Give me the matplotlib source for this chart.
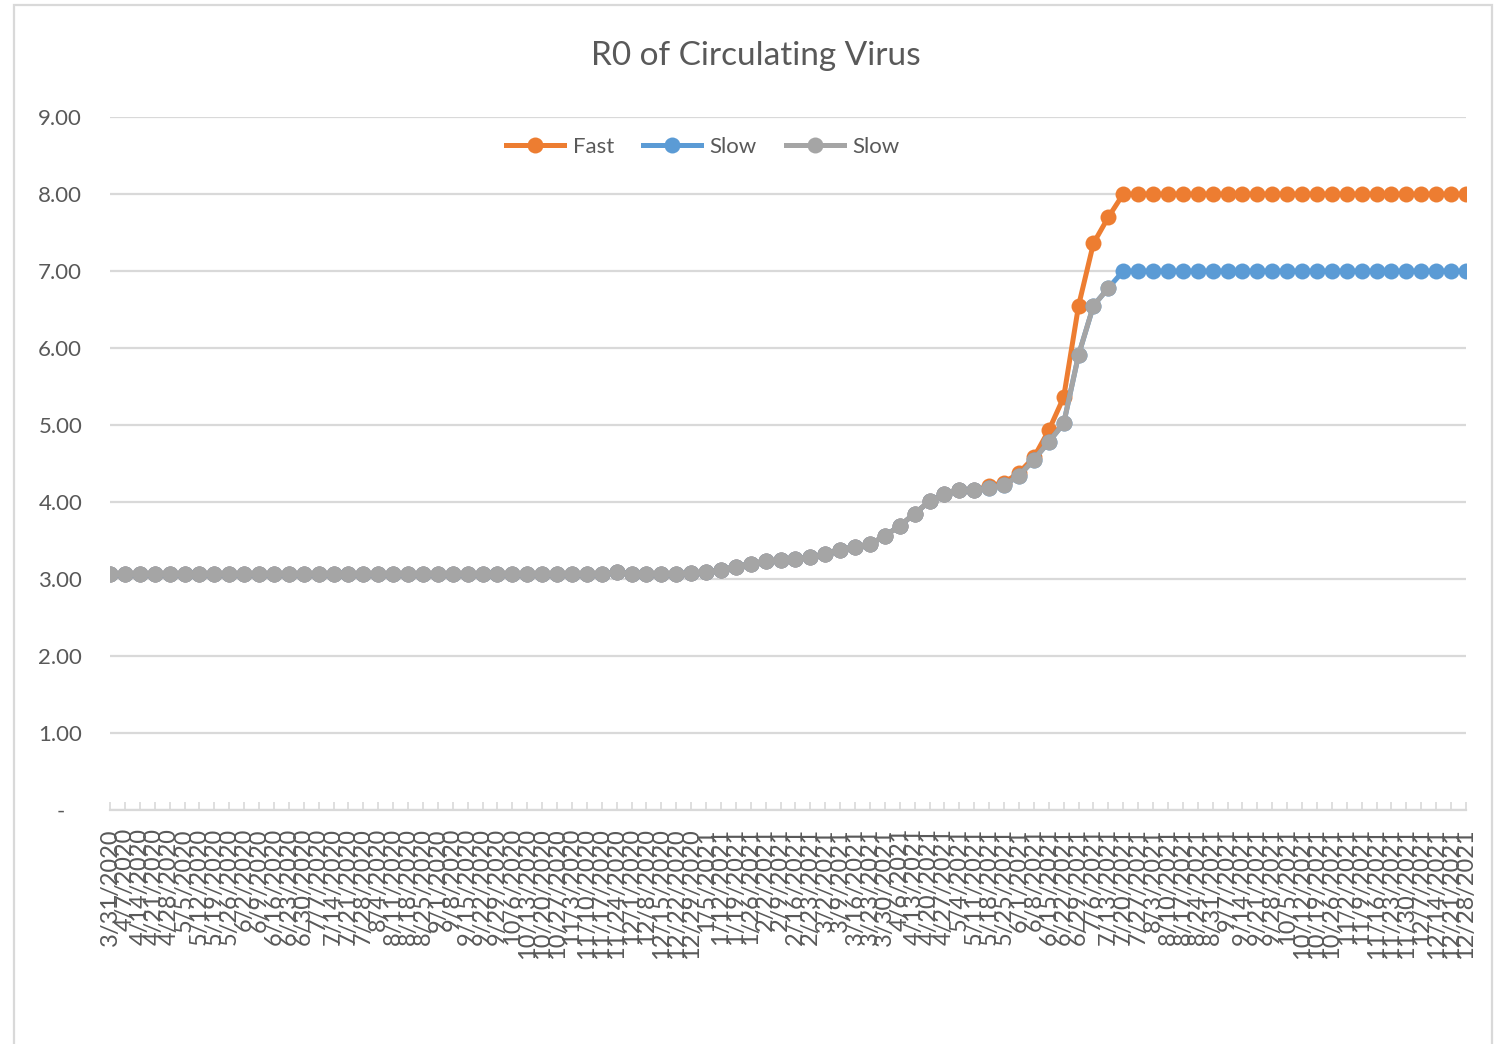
# R0 of circulating virus, weekly, for a fast and a slow scenario (Excel-style line chart)

import pandas as pd
import matplotlib.pyplot as plt
from matplotlib.patches import Rectangle

# Weekly dates on the category axis, 3/31/2020 .. 12/28/2021
week_dates = pd.date_range('2020-03-31', '2021-12-28', freq='7D')
week_labels = [f'{d.month}/{d.day}/{d.year}' for d in week_dates]

# Values
fast_r0 = [3.07, 3.07, 3.07, 3.07, 3.07, 3.07, 3.07, 3.07, 3.07, 3.07,
           3.07, 3.07, 3.07, 3.07, 3.07, 3.07, 3.07, 3.07, 3.07, 3.07,
           3.07, 3.07, 3.07, 3.07, 3.07, 3.07, 3.07, 3.07, 3.07, 3.07,
           3.07, 3.07, 3.07, 3.07, 3.09, 3.07, 3.07, 3.07, 3.07, 3.08,
           3.09, 3.12, 3.16, 3.20, 3.23, 3.25, 3.26, 3.28, 3.32, 3.38,
           3.42, 3.45, 3.56, 3.69, 3.85, 4.01, 4.10, 4.15, 4.15, 4.21,
           4.25, 4.38, 4.58, 4.93, 5.36, 6.55, 7.36, 7.70, 8.00, 8.00,
           8.00, 8.00, 8.00, 8.00, 8.00, 8.00, 8.00, 8.00, 8.00, 8.00,
           8.00, 8.00, 8.00, 8.00, 8.00, 8.00, 8.00, 8.00, 8.00, 8.00,
           8.00, 8.00]

slow_r0 = [3.07, 3.07, 3.07, 3.07, 3.07, 3.07, 3.07, 3.07, 3.07, 3.07,
           3.07, 3.07, 3.07, 3.07, 3.07, 3.07, 3.07, 3.07, 3.07, 3.07,
           3.07, 3.07, 3.07, 3.07, 3.07, 3.07, 3.07, 3.07, 3.07, 3.07,
           3.07, 3.07, 3.07, 3.07, 3.09, 3.07, 3.07, 3.07, 3.07, 3.08,
           3.09, 3.12, 3.16, 3.20, 3.23, 3.25, 3.26, 3.28, 3.32, 3.38,
           3.42, 3.45, 3.56, 3.69, 3.85, 4.01, 4.10, 4.15, 4.15, 4.18,
           4.22, 4.34, 4.55, 4.78, 5.02, 5.91, 6.55, 6.78, 7.00, 7.00,
           7.00, 7.00, 7.00, 7.00, 7.00, 7.00, 7.00, 7.00, 7.00, 7.00,
           7.00, 7.00, 7.00, 7.00, 7.00, 7.00, 7.00, 7.00, 7.00, 7.00,
           7.00, 7.00]

# second "Slow" series stops on 7/13/2021
slow2_r0 = [3.07, 3.07, 3.07, 3.07, 3.07, 3.07, 3.07, 3.07, 3.07, 3.07,
            3.07, 3.07, 3.07, 3.07, 3.07, 3.07, 3.07, 3.07, 3.07, 3.07,
            3.07, 3.07, 3.07, 3.07, 3.07, 3.07, 3.07, 3.07, 3.07, 3.07,
            3.07, 3.07, 3.07, 3.07, 3.09, 3.07, 3.07, 3.07, 3.07, 3.08,
            3.09, 3.12, 3.16, 3.20, 3.23, 3.25, 3.26, 3.28, 3.32, 3.38,
            3.42, 3.45, 3.56, 3.69, 3.85, 4.01, 4.10, 4.15, 4.15, 4.18,
            4.22, 4.34, 4.55, 4.78, 5.02, 5.91, 6.55, 6.78]

y_ticks = [0, 1, 2, 3, 4, 5, 6, 7, 8, 9]
y_tick_labels = ['-   ', '1.00', '2.00', '3.00', '4.00', '5.00', '6.00', '7.00', '8.00', '9.00']

text_grey = '#595959'
grid_grey = '#D9D9D9'

plt.rcParams['font.family'] = ['Lato', 'DejaVu Sans']

fig = plt.figure(figsize=(14.96, 10.44), dpi=100)
ax = fig.add_axes([110 / 1496, 1 - 810 / 1044, 1356 / 1496, 693 / 1044])

x = list(range(len(week_labels)))
ax.plot(x, fast_r0, color='#ED7D31', lw=3.6, marker='o', ms=11.5, mew=0, label='Fast')
ax.plot(x, slow_r0, color='#5B9BD5', lw=3.6, marker='o', ms=11.5, mew=0, label='Slow')
ax.plot(x[:len(slow2_r0)], slow2_r0, color='#A5A5A5', lw=3.6, marker='o', ms=11.5, mew=0, label='Slow')

ax.set_xlim(0, len(week_labels) - 1)
ax.set_ylim(0, 9)
ax.set_xticks(x)
ax.set_xticklabels(week_labels, rotation=90, fontsize=17, color=text_grey)
ax.set_yticks(y_ticks)
ax.set_yticklabels(y_tick_labels, fontsize=16, color=text_grey)

ax.grid(axis='y', color=grid_grey, lw=1.6)
ax.set_axisbelow(True)
for side in ['top', 'right', 'left']:
    ax.spines[side].set_visible(False)
ax.spines['bottom'].set_color(grid_grey)
ax.spines['bottom'].set_linewidth(1.6)
ax.tick_params(axis='x', direction='in', length=6, width=1.2, color=grid_grey, pad=13)
ax.tick_params(axis='y', length=0, pad=20)

fig.text(756 / 1496, 1 - 56 / 1044, 'R0 of Circulating Virus', ha='center', va='center',
         fontsize=24, color=text_grey)

ax.legend(loc='center', bbox_to_anchor=(703 / 1496, 1 - 147 / 1044), bbox_transform=fig.transFigure,
          ncol=3, frameon=False, fontsize=16, labelcolor=text_grey, handlelength=2.6,
          handletextpad=0.4, columnspacing=1.3, numpoints=1)

# light border round the chart area
fig.patches.append(Rectangle((14 / 1496, -0.05), 1478 / 1496, 1.05 - 5 / 1044, transform=fig.transFigure,
                             fill=False, edgecolor=grid_grey, lw=1.6))

plt.savefig('out.png', dpi=100)
